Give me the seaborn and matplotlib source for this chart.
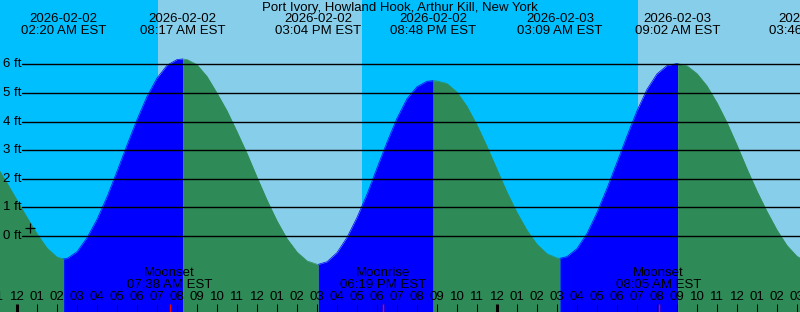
import numpy as np
import pandas as pd
import matplotlib
matplotlib.use("Agg")
import matplotlib.pyplot as plt
import matplotlib.transforms as mtransforms
import seaborn as sns

# ---------------- data ----------------
title = "Port Ivory, Howland Hook, Arthur Kill, New York"

# hours since 2026-02-02 00:00 EST, tide height in ft
hours = [-1.0, -0.5, 0.0, 0.5, 1.0, 1.5, 2.0, 2.333,
         2.5, 3.0, 3.5, 4.0, 4.5, 5.0, 5.5, 6.0, 6.5, 7.0, 7.5, 8.0, 8.283,
         8.5, 9.0, 9.5, 10.0, 10.5, 11.0, 11.5, 12.0, 12.5, 13.0, 13.5, 14.0, 14.5, 15.0, 15.067,
         15.5, 16.0, 16.5, 17.0, 17.5, 18.0, 18.5, 19.0, 19.5, 20.0, 20.5, 20.8,
         21.0, 21.5, 22.0, 22.5, 23.0, 23.5, 24.0, 24.5, 25.0, 25.5, 26.0, 26.5, 27.0, 27.15,
         27.5, 28.0, 28.5, 29.0, 29.5, 30.0, 30.5, 31.0, 31.5, 32.0, 32.5, 33.0, 33.033,
         33.5, 34.0, 34.5, 35.0, 35.5, 36.0, 36.5, 37.0, 37.5, 38.0, 38.5, 39.0, 39.5]
heights = [2.42, 1.85, 1.25, 0.65, 0.08, -0.42, -0.74, -0.80,
           -0.79, -0.55, -0.06, 0.58, 1.37, 2.26, 3.18, 4.07, 4.88, 5.52, 5.97, 6.17, 6.19,
           6.17, 5.99, 5.58, 5.00, 4.38, 3.65, 2.89, 2.06, 1.26, 0.53, -0.09, -0.56, -0.87, -0.99, -0.99,
           -0.90, -0.58, -0.05, 0.65, 1.46, 2.38, 3.28, 4.12, 4.80, 5.22, 5.41, 5.43,
           5.42, 5.33, 5.03, 4.53, 3.88, 3.13, 2.33, 1.53, 0.82, 0.20, -0.29, -0.62, -0.77, -0.78,
           -0.72, -0.44, 0.09, 0.82, 1.67, 2.58, 3.50, 4.38, 5.13, 5.67, 5.96, 6.03, 6.03,
           5.95, 5.68, 5.25, 4.66, 3.97, 3.18, 2.35, 1.57, 0.86, 0.21, -0.33, -0.71, -0.90]

# high / low tide events
ext_hours = [2.333, 8.283, 15.067, 20.8, 27.15, 33.033, 39.767]
ext_kind = ["low", "high", "low", "high", "low", "high", "low"]
ext_dates = ["2026-02-02", "2026-02-02", "2026-02-02", "2026-02-02",
             "2026-02-03", "2026-02-03", "2026-02-03"]
ext_times = ["02:20 AM EST", "08:17 AM EST", "03:04 PM EST", "08:48 PM EST",
             "03:09 AM EST", "09:02 AM EST", "03:46 PM EST"]

# sun (daylight spans) and moon events
day_spans = [(7.03, 17.23), (31.03, 40.0)]
moon_hours = [7.633, 18.317, 32.083]
moon_names = ["Moonset", "Moonrise", "Moonset"]
moon_times = ["07:38 AM EST", "06:19 PM EST", "08:05 AM EST"]

# current-time marker
now_hour = 0.65
now_height = 0.28

grid_ft = [0, 1, 2, 3, 4, 5, 6]
grid_labels = ["0 ft", "1 ft", "2 ft", "3 ft", "4 ft", "5 ft", "6 ft"]
hour_ticks = list(range(-1, 40))
hour_labels = ["%02d" % (((h % 12) or 12)) for h in hour_ticks]
midnights = [0, 24]

# ---------------- style ----------------
NIGHT = "#00BFFF"
DAY = "#87CEEB"
RISE = "#0000FF"
FALL = "#2E8B57"

sns.set_style("white")
plt.rcParams["font.family"] = ["Liberation Sans", "DejaVu Sans"]
FS = 9.5

W, H = 800, 312
fig = plt.figure(figsize=(W / 100, H / 100), dpi=100, facecolor=NIGHT)
ax = fig.add_axes([0, 0, 1, 1])

# pixel mapping: x = 17 + 20*t ; y = 236 - 28.6*ft
x0, pxh = 17.0, 20.0
y0, pxf = 236.0, 28.6
xmin, xmax = -x0 / pxh, (W - x0) / pxh
ax.set_xlim(xmin, xmax)
ax.set_ylim((y0 - H) / pxf, y0 / pxf)
ybot = (y0 - H) / pxf - 1

ax.axvspan(xmin - 1, xmax + 1, color=NIGHT, lw=0, zorder=0)
for a, b in day_spans:
    ax.axvspan(a, b, color=DAY, lw=0, zorder=0.5)

df = pd.DataFrame({"t": hours, "h": heights})
bounds = [hours[0]] + ext_hours
seg_col = []
for i in range(len(bounds) - 1):
    a, b = bounds[i], bounds[i + 1]
    sub = df[(df.t >= a - 1e-9) & (df.t <= b + 1e-9)]
    if len(sub) < 2:
        continue
    col = RISE if ext_kind[i] == "high" else FALL
    ax.fill_between(sub.t, sub.h, ybot, color=col, lw=0, zorder=1)
    s = sub.copy()
    s["seg"] = i
    s["phase"] = "rise" if ext_kind[i] == "high" else "fall"
    seg_col.append(s)

curve = pd.concat(seg_col)
sns.lineplot(data=curve, x="t", y="h", hue="phase", units="seg", estimator=None,
             palette={"rise": RISE, "fall": FALL}, lw=0.5, legend=False, ax=ax, zorder=2)

# grid lines and labels
blend_y = mtransforms.blended_transform_factory(ax.transAxes, ax.transData)
for g, lab in zip(grid_ft, grid_labels):
    ax.axhline(g, xmin=22 / W, xmax=1, color="black", lw=1.0, zorder=3)
    ax.text(3 / W, g, lab, transform=blend_y, ha="left", va="center",
            fontsize=FS, color="black", zorder=4)

blend_x = mtransforms.blended_transform_factory(ax.transData, ax.transAxes)

# title
ax.text(0.5, 1 - 8 / H, title, transform=ax.transAxes, ha="center", va="center",
        fontsize=FS, color="black", zorder=5)

# tide event labels at the top
for t, d, tm in zip(ext_hours, ext_dates, ext_times):
    ax.text(t, 1 - 19.5 / H, d, transform=blend_x, ha="center", va="center",
            fontsize=FS, color="black", zorder=5)
    ax.text(t, 1 - 31.5 / H, tm, transform=blend_x, ha="center", va="center",
            fontsize=FS, color="black", zorder=5)

# moon labels
for t, n, tm in zip(moon_hours, moon_names, moon_times):
    ax.text(t, 1 - 273 / H, n, transform=blend_x, ha="center", va="center",
            fontsize=FS, color="black", zorder=5)
    ax.text(t, 1 - 285.5 / H, tm, transform=blend_x, ha="center", va="center",
            fontsize=FS, color="black", zorder=5)

# hour labels and ticks
for h, lab in zip(hour_ticks, hour_labels):
    ax.text(h, 1 - 297 / H, lab, transform=blend_x, ha="center", va="center",
            fontsize=FS, color="black", zorder=5)
    lw = 2.2 if h in midnights else 0.75
    ax.plot([h, h], [0, 8 / H], transform=blend_x, color="black", lw=lw,
            solid_capstyle="butt", zorder=5)
for t in moon_hours:
    ax.plot([t, t], [0, 8 / H], transform=blend_x, color="red", lw=1.0,
            solid_capstyle="butt", zorder=5)

# current time marker
ax.plot([now_hour], [now_height], marker="+", ms=7, mew=0.9, color="black", zorder=6)

ax.set_axis_off()
fig.savefig("out.png", dpi=100, facecolor=NIGHT)
